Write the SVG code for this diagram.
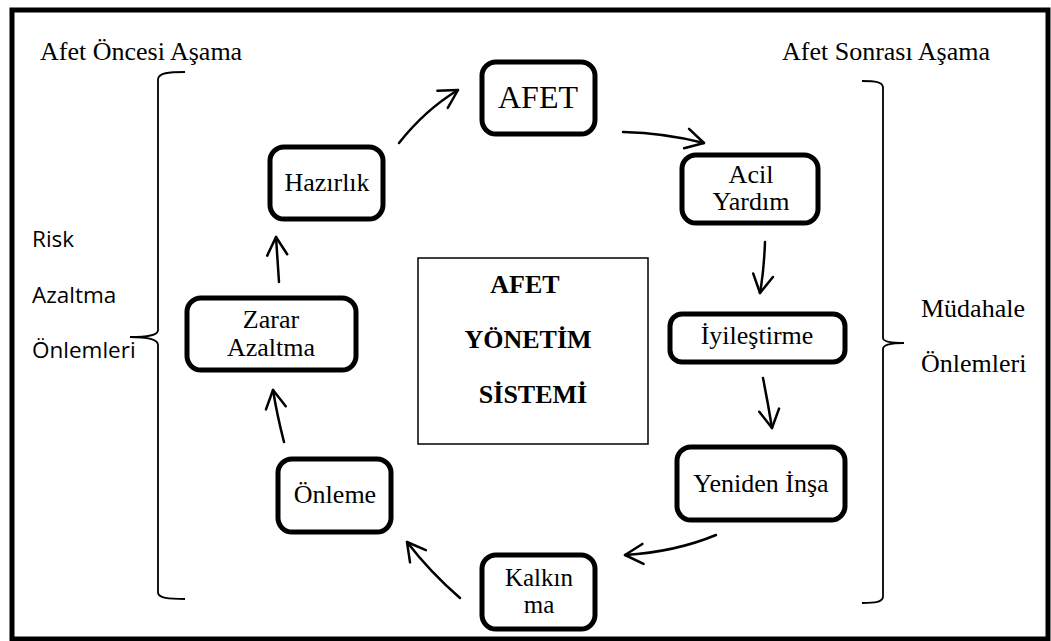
<svg xmlns="http://www.w3.org/2000/svg" width="1051" height="641" viewBox="0 0 1051 641">
<style>
.node{fill:#fff;stroke:#000;stroke-width:5}
.t{font-family:'Liberation Serif','DejaVu Serif',serif;font-size:26px;fill:#000;text-anchor:middle}
.tl{font-family:'Liberation Serif','DejaVu Serif',serif;font-size:26px;fill:#000}
.s{font-family:'Open Sans','Noto Sans',sans-serif;font-size:22.5px;fill:#000}
.b{font-family:'Liberation Serif','DejaVu Serif',serif;font-size:26px;font-weight:bold;fill:#000;text-anchor:middle}
.c{fill:none;stroke:#000;stroke-width:2.5;stroke-linecap:round}
.br{fill:none;stroke:#000;stroke-width:1.8}
</style>
<defs>
<marker id="ah" markerUnits="userSpaceOnUse" markerWidth="26" markerHeight="26" viewBox="0 0 26 26" refX="21" refY="13" orient="auto">
<path d="M3,3 L21,13 L3,23" fill="none" stroke="#000" stroke-width="2.5" stroke-linecap="round" stroke-linejoin="round"/>
</marker>
</defs>
<rect width="1051" height="641" fill="#fff"/>
<rect x="12" y="10" width="1036" height="629" fill="none" stroke="#000" stroke-width="5"/>

<g id="labels">
<text class="tl" x="40" y="60">Afet Öncesi Aşama</text>
<text class="tl" x="782" y="60">Afet Sonrası Aşama</text>
<text class="s" x="32" y="247">Risk</text>
<text class="s" x="32" y="303">Azaltma</text>
<text class="s" x="32" y="358">Önlemleri</text>
<text class="tl" x="921" y="317">Müdahale</text>
<text class="tl" x="921" y="372">Önlemleri</text>
</g>

<g id="brackets">
<path class="br" d="M185,72 C168,72 159,73 158,79 L158,330 C158,335 150,337 130,337 C150,337 158,340 158,345 L158,593 C159,598 168,599 185,599"/>
<path class="br" d="M862,81 C876,81 882,82 883,87 L883,338 C883,341 890,343 904,343 C890,343 883,345 883,349 L883,597 C882,602 876,603 862,603"/>
</g>

<g id="n-afet"><rect class="node" x="482" y="62" width="113" height="72" rx="14"/><text class="t" x="538" y="108" style="font-size:32px">AFET</text></g>
<g id="n-hazirlik"><rect class="node" x="270" y="147" width="113" height="72" rx="14"/><text class="t" x="327" y="191">Hazırlık</text></g>
<g id="n-zarar"><rect class="node" x="187" y="298" width="169" height="72" rx="14"/><text class="t" x="271" y="328">Zarar</text><text class="t" x="271" y="356">Azaltma</text></g>
<g id="n-onleme"><rect class="node" x="278" y="459" width="113" height="73" rx="14"/><text class="t" x="335" y="503">Önleme</text></g>
<g id="n-kalkinma"><rect class="node" x="482" y="555" width="113" height="74" rx="14"/><text class="t" x="539" y="586" style="font-size:25px">Kalkın</text><text class="t" x="539" y="613" style="font-size:25px">ma</text></g>
<g id="n-yeniden"><rect class="node" x="677" y="447" width="168" height="73" rx="14"/><text class="t" x="761" y="492">Yeniden İnşa</text></g>
<g id="n-iyilestirme"><rect class="node" x="670" y="314" width="175" height="48" rx="12"/><text class="t" x="757" y="344">İyileştirme</text></g>
<g id="n-acil"><rect class="node" x="682" y="155" width="136" height="68" rx="14"/><text class="t" x="751" y="183">Acil</text><text class="t" x="751" y="210">Yardım</text></g>
<g id="n-center"><rect x="418" y="258" width="230" height="186" fill="#fff" stroke="#000" stroke-width="1.5"/><text class="b" x="525" y="293">AFET</text><text class="b" x="528" y="348">YÖNETİM</text><text class="b" x="533" y="403">SİSTEMİ</text></g>

<g id="connectors">
<path class="c" marker-end="url(#ah)" d="M399,143 Q425,110 458,90"/>
<path class="c" marker-end="url(#ah)" d="M623,132 Q665,133 704,143"/>
<path class="c" marker-end="url(#ah)" d="M765,242 Q764,270 760,293"/>
<path class="c" marker-end="url(#ah)" d="M763,378 Q768,403 772,428"/>
<path class="c" marker-end="url(#ah)" d="M716,535 Q675,552 625,555"/>
<path class="c" marker-end="url(#ah)" d="M460,598 Q430,572 407,542"/>
<path class="c" marker-end="url(#ah)" d="M284,442 Q277,415 273,390"/>
<path class="c" marker-end="url(#ah)" d="M279,282 L276,237"/>
</g>
</svg>
